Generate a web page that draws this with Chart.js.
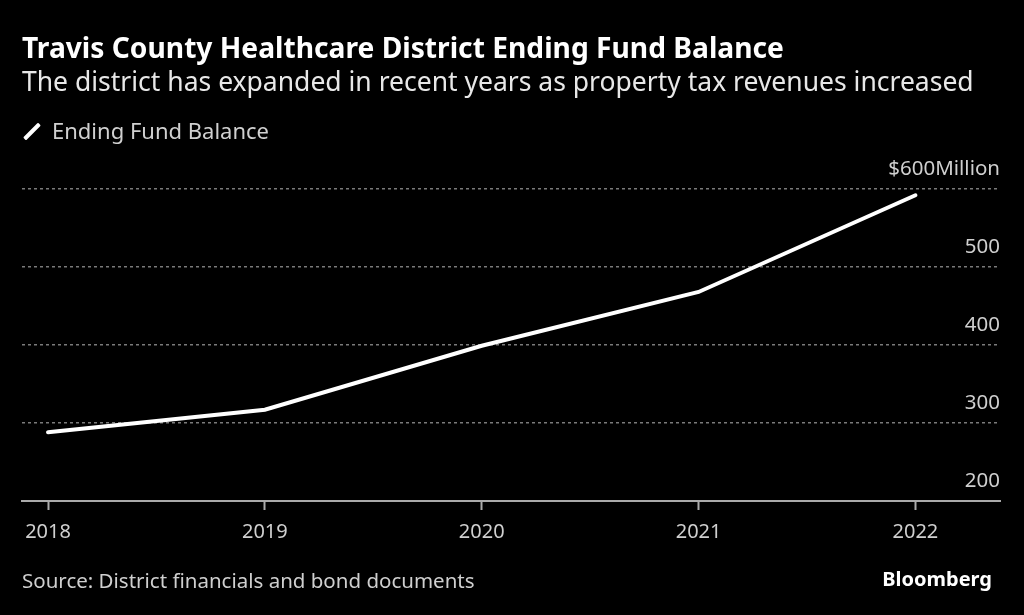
<!DOCTYPE html>
<html>
<head>
<meta charset="utf-8">
<script src="https://cdn.jsdelivr.net/npm/chart.js@4.4.1/dist/chart.umd.min.js"></script>
<style>
  html, body { margin: 0; padding: 0; background: #000; }
  body { width: 1024px; height: 615px; position: relative; overflow: hidden; font-family: "Noto Sans", sans-serif; }
  #chart { position: absolute; left: 0; top: 0; }
  .txt { position: absolute; white-space: nowrap; line-height: 1; }
  #title { left: 22px; top: 33px; font-size: 28.2px; font-weight: 700; color: #fff; }
  #subtitle { left: 22px; top: 68px; font-size: 26.5px; color: #e8e8e8; }
  #legend { left: 22px; top: 119px; font-size: 22px; color: #d0d0d0; }
  #legend .key { display: inline-block; width: 4px; height: 21px; background: #fff; transform: rotate(45deg); margin: 0 18px -3px 8px; border-radius: 1px; }
  #source { left: 22px; top: 570px; font-size: 20.5px; color: #cfcfcf; }
  #logo { right: 32px; top: 569px; font-size: 20px; font-weight: 700; color: #fff; }
</style>
</head>
<body>
<canvas id="chart" width="1024" height="615"></canvas>
<div class="txt" id="title">Travis County Healthcare District Ending Fund Balance</div>
<div class="txt" id="subtitle">The district has expanded in recent years as property tax revenues increased</div>
<div class="txt" id="legend"><span class="key"></span>Ending Fund Balance</div>
<div class="txt" id="source">Source: District financials and bond documents</div>
<div class="txt" id="logo">Bloomberg</div>
<script>
// values, $ millions
const years = [2018, 2019, 2020, 2021, 2022];
const balance = [288, 317, 399, 468, 592];
const yTicks = [200, 300, 400, 500, 600];

// right-side tick labels sit just above their gridline
const yLabels = {
  id: 'yLabels',
  afterDraw(chart) {
    const ctx = chart.ctx;
    const y = chart.scales.y;
    ctx.save();
    ctx.font = '20.5px "Noto Sans", sans-serif';
    ctx.fillStyle = '#cfcfcf';
    ctx.textAlign = 'right';
    ctx.textBaseline = 'alphabetic';
    y.ticks.forEach((t, i) => {
      const label = i === y.ticks.length - 1 ? '$' + t.value + 'Million' : String(t.value);
      ctx.fillText(label, chart.chartArea.right, y.getPixelForValue(t.value) - 14);
    });
    ctx.restore();
  }
};

new Chart(document.getElementById('chart'), {
  type: 'line',
  data: {
    datasets: [{
      label: 'Ending Fund Balance',
      data: years.map((yr, i) => ({ x: yr, y: balance[i] })),
      borderColor: '#fff',
      borderWidth: 4,
      pointRadius: 0,
      tension: 0,
      borderCapStyle: 'round'
    }]
  },
  options: {
    responsive: false,
    animation: false,
    layout: { padding: { left: 22, right: 24, top: 189, bottom: 0 } },
    plugins: { legend: { display: false }, tooltip: { enabled: false } },
    scales: {
      x: {
        type: 'linear',
        min: 2017.88,
        max: 2022.39,
        afterBuildTicks: s => { s.ticks = years.map(v => ({ value: v })); },
        afterFit: s => { s.height = 114; },
        grid: { drawOnChartArea: false, drawTicks: true, tickLength: 9, tickColor: '#aaa', tickWidth: 2 },
        border: { display: true, color: '#aaa', width: 2 },
        ticks: {
          color: '#cfcfcf',
          font: { family: '"Noto Sans", sans-serif', size: 20 },
          padding: 10,
          maxRotation: 0,
          callback: v => String(v)
        }
      },
      y: {
        position: 'right',
        min: 200,
        max: 600,
        afterBuildTicks: s => { s.ticks = yTicks.map(v => ({ value: v })); },
        afterFit: s => { s.width = 0; },
        grid: { color: '#7a7a7a', lineWidth: 1.5, drawTicks: false },
        border: { display: false, dash: [3, 3] },
        ticks: { display: false }
      }
    }
  },
  plugins: [yLabels]
});
</script>
</body>
</html>
